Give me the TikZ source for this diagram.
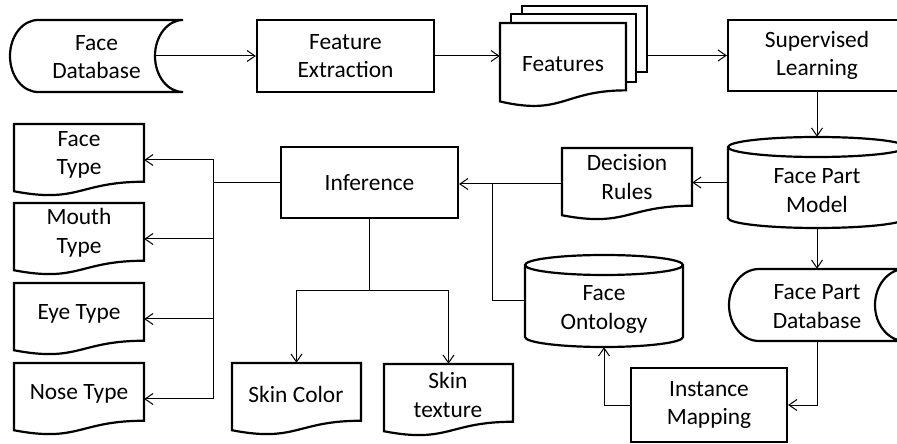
\documentclass[tikz,border=0pt]{standalone}
\usepackage{fontspec}
\setmainfont{Carlito}
\usetikzlibrary{arrows.meta}
\newcommand\mainfnt{\fontsize{23.4bp}{28.5bp}\selectfont}
% document shape: name, x, y, w, h
\newcommand\docnode[5]{%
  \node[anch, minimum width=#4bp, minimum height=#5bp] (#1) at ({#2+#4/2},{#3+#5/2}) {};
  \path[shp] (#2,#3) -- ({#2+#4},#3) -- ({#2+#4},{#3+0.802*#5})
    .. controls ({#2+0.5*#4},{#3+0.802*#5}) and ({#2+0.5*#4},{#3+1.1075*#5}) .. (#2,{#3+0.934*#5}) -- cycle;}
% cylinder: name, x, y, w, h, ry
\newcommand\cylnode[6]{%
  \node[anch, minimum width=#4bp, minimum height=#5bp] (#1) at ({#2+#4/2},{#3+#5/2}) {};
  \path[shp] (#2,{#3+#6}) -- (#2,{#3+#5-#6})
    .. controls (#2,{#3+#5-#6+0.5523*#6}) and ({#2+#4/2-0.5523*#4/2},{#3+#5}) .. ({#2+#4/2},{#3+#5})
    .. controls ({#2+#4/2+0.5523*#4/2},{#3+#5}) and ({#2+#4},{#3+#5-#6+0.5523*#6}) .. ({#2+#4},{#3+#5-#6})
    -- ({#2+#4},{#3+#6})
    .. controls ({#2+#4},{#3+#6-0.5523*#6}) and ({#2+#4/2+0.5523*#4/2},#3) .. ({#2+#4/2},#3)
    .. controls ({#2+#4/2-0.5523*#4/2},#3) and (#2,{#3+#6-0.5523*#6}) .. (#2,{#3+#6}) -- cycle;
  \draw[shp, fill=none] (#2,{#3+#6})
    .. controls (#2,{#3+#6+0.5523*#6}) and ({#2+#4/2-0.5523*#4/2},{#3+2*#6}) .. ({#2+#4/2},{#3+2*#6})
    .. controls ({#2+#4/2+0.5523*#4/2},{#3+2*#6}) and ({#2+#4},{#3+#6+0.5523*#6}) .. ({#2+#4},{#3+#6});}
% stored data: name, x, y, w, h, r
\newcommand\storednode[6]{%
  \node[anch, minimum width=#4bp, minimum height=#5bp] (#1) at ({#2+#4/2},{#3+#5/2}) {};
  \path[shp] ({#2+#6},#3) -- ({#2+#4},#3)
    .. controls ({#2+#4-0.5523*#6},#3) and ({#2+#4-#6},{#3+#5/2-0.5523*#5/2}) .. ({#2+#4-#6},{#3+#5/2})
    .. controls ({#2+#4-#6},{#3+#5/2+0.5523*#5/2}) and ({#2+#4-0.5523*#6},{#3+#5}) .. ({#2+#4},{#3+#5})
    -- ({#2+#6},{#3+#5})
    .. controls ({#2+#6-0.5523*#6},{#3+#5}) and (#2,{#3+#5/2+0.5523*#5/2}) .. (#2,{#3+#5/2})
    .. controls (#2,{#3+#5/2-0.5523*#5/2}) and ({#2+#6-0.5523*#6},#3) .. ({#2+#6},#3) -- cycle;}
\begin{document}
\begin{tikzpicture}[x=1bp,y=-1bp,
  shp/.style={line width=2.2bp, draw=black, fill=white},
  anch/.style={rectangle, draw=none, inner sep=0pt},
  rbox/.style={rectangle, shp, inner sep=0pt, align=center, font=\mainfnt},
  txt/.style={align=center, inner sep=0pt, font=\mainfnt},
  conn/.style={line width=1bp},
  arr/.style={conn, -{Straight Barb[length=8bp,width=11bp]}}]
\useasboundingbox (0,0) rectangle (897,444);
\clip (0,0) rectangle (897,444);

% top row
\storednode{fdb}{10}{20}{173}{72}{28}
\node[txt] (tfdb) at (96.5,57.3) {Face\\Database};
\node[rbox, minimum width=177bp, minimum height=72bp] (fe) at (345.5,56) {Feature\\Extraction};
\node[anch, shp, minimum width=125bp, minimum height=66bp] (featc) at (584.5,39) {};
\node[anch, shp, minimum width=125bp, minimum height=68bp] (featb) at (573.5,48) {};
\docnode{feat}{500}{23}{126}{84}
\node[txt] (tfeat) at (563,64) {Features};
\node[rbox, minimum width=178bp, minimum height=71bp] (sl) at (817,55.5) {Supervised\\Learning};

% middle
\cylnode{fpm}{728}{137}{178}{91}{10}
\node[txt] (tfpm) at (817,190.8) {Face Part\\Model};
\docnode{dr}{562}{148}{130}{72}
\node[txt] (tdr) at (627,177.2) {Decision\\Rules};
\node[rbox, minimum width=177bp, minimum height=71bp] (inf) at (369.5,182.5) {Inference};
\cylnode{fo}{525}{255}{158}{92}{10}
\node[txt] (tfo) at (604,309.5) {Face\\Ontology};
\storednode{fpd}{729}{269}{176}{72}{30}
\node[txt] (tfpd) at (817,306.7) {Face Part\\Database};
\node[rbox, minimum width=156bp, minimum height=74bp] (im) at (709,405) {Instance\\Mapping};

% left documents
\docnode{ft}{14}{124}{130}{72}
\node[txt] (tft) at (79,155) {Face\\Type};
\docnode{mt}{14}{203}{130}{72}
\node[txt] (tmt) at (79,232.7) {Mouth\\Type};
\docnode{et}{14}{283}{130}{72}
\node[txt] (tet) at (79,314) {Eye Type};
\docnode{nt}{14}{363}{130}{72}
\node[txt] (tnt) at (79,394) {Nose Type};
\docnode{sc}{232}{363}{129}{72}
\node[txt] (tsc) at (296,394) {Skin Color};
\docnode{st}{384}{364}{129}{72}
\node[txt] (tst) at (448,395) {Skin\\texture};

% connectors
\draw[arr] ([xshift=-28bp]fdb.east) -- (fe.west);
\draw[arr] (fe.east) -- (fe.east -| feat.west);
\draw[arr] (sl.west -| featc.east) -- (sl.west);
\draw[arr] (sl.south) -- (fpm.north);
\draw[arr] (fpm.west) -- (fpm.west -| dr.east);
\draw[arr] (dr.west) -- (dr.west -| inf.east);
\coordinate (j1) at (492,184);
\draw[conn] (fo.west) -| (j1);
\coordinate (jl) at (213,182.5);
\draw[conn] (inf.west) -- (jl);
\draw[arr] (jl) |- (ft.east);
\draw[arr] (jl) |- (mt.east);
\draw[arr] (jl) |- (et.east);
\draw[arr] (jl) |- (nt.east);
\coordinate (jb) at (369.5,291);
\draw[conn] (inf.south) -- (jb);
\draw[arr] (jb) -| (sc.north);
\draw[arr] (jb) -| (st.north);
\draw[arr] (fpm.south) -- (fpd.north);
\draw[arr] (fpd.south) |- (im.east);
\draw[arr] (im.west) -| (fo.south);
\end{tikzpicture}
\end{document}
